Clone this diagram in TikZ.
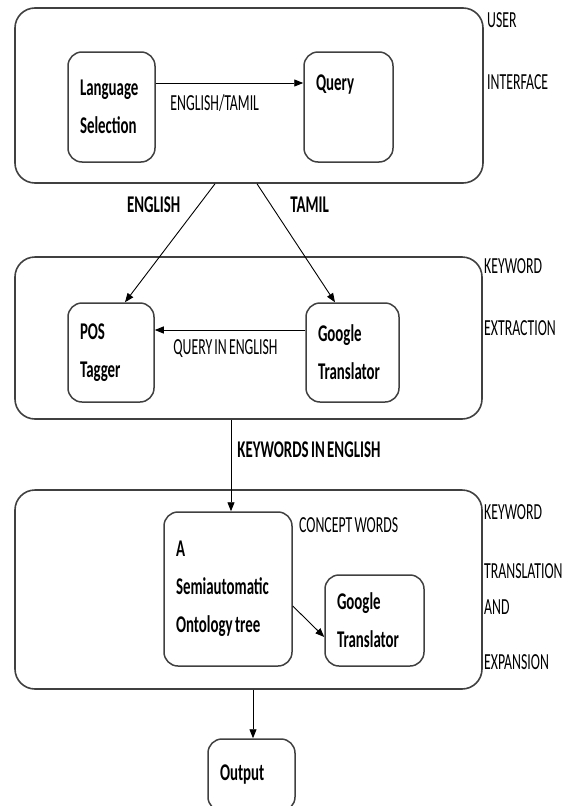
\documentclass[tikz,border=0pt]{standalone}
\usepackage{fontspec}
\newfontfamily\boxfont{Carlito}[FakeStretch=0.62, WordSpace=0.7]
\newfontfamily\tagfont{Carlito}[FakeStretch=0.6, WordSpace=0.7]
\usetikzlibrary{positioning,calc,arrows.meta}

\tikzset{
  stage/.style={rectangle, draw=black!75, line width=1.6pt, rounded corners=20pt},
  unit/.style={rectangle, draw=black!75, line width=1.5pt, rounded corners=14pt,
    align=left, inner xsep=12pt, font=\boxfont\bfseries\fontsize{24}{38}\selectfont,
    execute at begin node={\spaceskip=0pt\relax}},
  flow/.style={-{Triangle[length=9pt,width=7pt]}, line width=0.9pt},
  tag/.style={font=\tagfont\fontsize{23}{26}\selectfont, inner sep=0pt},
  btag/.style={font=\boxfont\bfseries\fontsize{24}{26}\selectfont, inner sep=0pt}
}

\begin{document}
\begin{tikzpicture}[x=1pt, y=-1pt]
	\useasboundingbox (0,0) rectangle (575,806);
	% stages
	\node (ui) [stage, minimum width=468pt, minimum height=175pt] at (249,95.5) {};
	\node (ke) [stage, minimum width=467pt, minimum height=162pt] at (248.5,338) {};
	\node (kt) [stage, minimum width=467pt, minimum height=199pt] at (248.5,589.5) {};
	\node (uiA) [tag, anchor=west] at (487,20) {USER};
	\node (uiB) [tag, anchor=west] at (487,82) {INTERFACE};
	\node (keA) [tag, anchor=west] at (484,266) {KEYWORD};
	\node (keB) [tag, anchor=west] at (484,328) {EXTRACTION};
	\node (ktA) [tag, anchor=west] at (484,512) {KEYWORD};
	\node (ktB) [tag, anchor=west] at (484,571) {TRANSLATION};
	\node (ktC) [tag, anchor=west] at (484,607) {AND};
	\node (ktD) [tag, anchor=west] at (484,662) {EXPANSION};
	% units
	\node (lang) [unit, minimum width=87pt, minimum height=110pt, text width=63pt] at (111.5,107) {Language\\Selection};
	\node (query) [unit, minimum width=89pt, minimum height=110pt, text width=65pt] at (348.5,107) {Query\\\strut};
	\node (pos) [unit, minimum width=86pt, minimum height=99pt, text width=62pt] at (111,352.5) {POS\\Tagger};
	\node (gt1) [unit, minimum width=93pt, minimum height=99pt, text width=69pt] at (352.5,352.5) {Google\\Translator};
	\node (onto) [unit, minimum width=128pt, minimum height=154pt, text width=104pt] at (228,589) {A\\Semiautomatic\\Ontology tree};
	\node (gt2) [unit, minimum width=99pt, minimum height=91pt, text width=75pt] at (374.5,620.5) {Google\\Translator};
	\node (out) [unit, minimum width=87pt, minimum height=72pt, text width=63pt] at (251.5,775) {Output};
	\node (cw) [tag, anchor=west] at (299,525) {CONCEPT WORDS};
	% connectors
	\draw [flow] ([yshift=24pt]lang.east) -- ([yshift=24pt]lang.east -| query.west)
		node (lblET) [tag, pos=0.4, below=11pt] {ENGLISH/TAMIL};
	\draw [flow] ([xshift=-34pt]ui.south) -- ([xshift=14pt]pos.north)
		node (lblEn) [btag, pos=0.18, left=18pt] {ENGLISH};
	\draw [flow] ([xshift=8pt]ui.south) -- ([xshift=-17.5pt]gt1.north)
		node (lblTa) [btag, pos=0.18, right=19pt] {TAMIL};
	\draw [flow] ([yshift=22.5pt]gt1.west) -- ([yshift=22.5pt]gt1.west -| pos.east)
		node (lblQ) [tag, pos=0.53, below=9.5pt] {QUERY IN ENGLISH};
	\draw [flow] ([xshift=-17.5pt]ke.south) -- ([xshift=-17.5pt]ke.south |- onto.north)
		node (lblKw) [btag, pos=0.33, right=6pt] {KEYWORDS IN ENGLISH};
	\draw [flow] ([yshift=-17pt]onto.east) -- ([yshift=-16.5pt]gt2.west);
	\draw [flow] ([xshift=4.5pt]kt.south) -- ([xshift=4.5pt]kt.south |- out.north);
\end{tikzpicture}
\end{document}
